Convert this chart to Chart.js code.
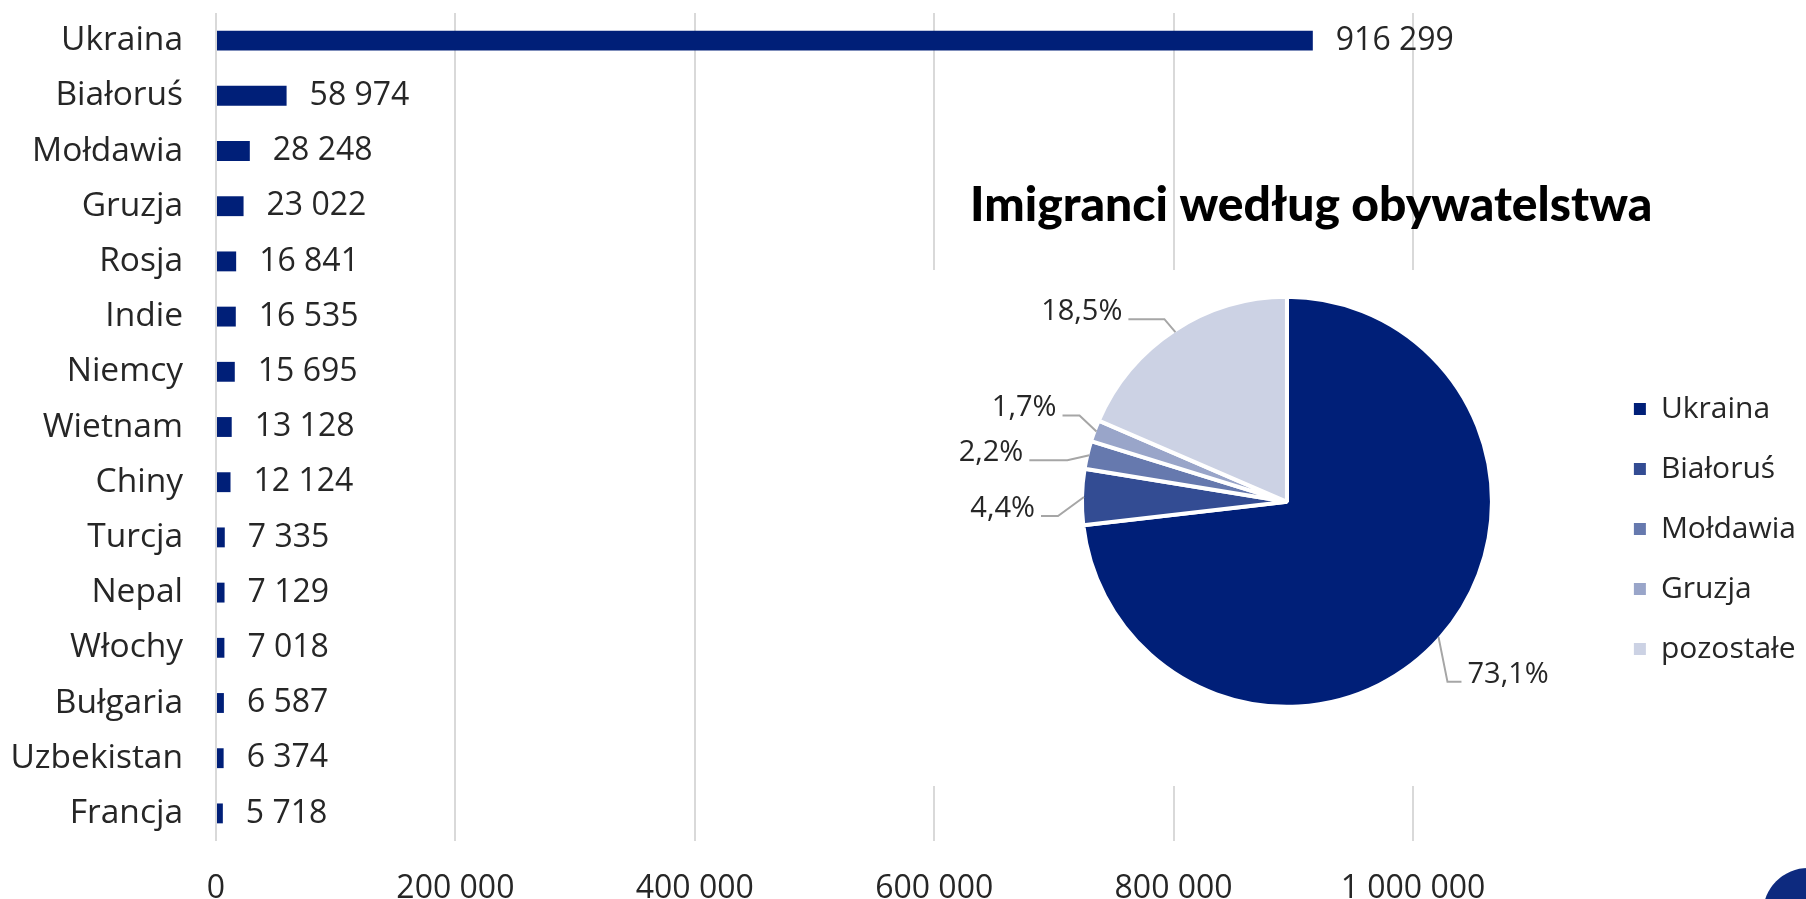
<!DOCTYPE html>
<html lang="pl">
<head>
<meta charset="utf-8">
<title>Imigranci według obywatelstwa</title>
<script src="https://cdn.jsdelivr.net/npm/chart.js@4"></script>
<style>
    html, body { margin: 0; padding: 0; background: #fff; }
    body { width: 1806px; height: 899px; position: relative; overflow: hidden; }
    #barWrap { position: absolute; left: 0; top: 0; width: 1806px; height: 899px; }
    #cover { position: absolute; left: 900px; top: 270px; width: 906px; height: 516px; background: #fff; }
    #pieWrap { position: absolute; left: 930px; top: 150px; width: 876px; height: 640px; }
    #corner { position: absolute; left: 1763px; top: 868px; width: 90px; height: 90px; border-radius: 45px; background: #0d2a7f; }
</style>
</head>
<body>
<div id="barWrap"><canvas id="bars"></canvas></div>
<div id="cover"></div>
<div id="pieWrap"><canvas id="pie"></canvas></div>
<div id="corner"></div>
<script>
const countries = ['Ukraina', 'Białoruś', 'Mołdawia', 'Gruzja', 'Rosja', 'Indie', 'Niemcy', 'Wietnam', 'Chiny', 'Turcja', 'Nepal', 'Włochy', 'Bułgaria', 'Uzbekistan', 'Francja'];
const immigrants = [916299, 58974, 28248, 23022, 16841, 16535, 15695, 13128, 12124, 7335, 7129, 7018, 6587, 6374, 5718];
const axisMax = 1000000;
const axisStep = 200000;

const pieLabels = ['Ukraina', 'Białoruś', 'Mołdawia', 'Gruzja', 'pozostałe'];
const pieShares = [73.1, 4.4, 2.2, 1.7, 18.5];
const pieColors = ['#001f78', '#334c93', '#6679ae', '#99a5c9', '#ccd2e4'];

// leader lines: elbow dx, elbow dy, horizontal run (negative goes left)
const leaders = [[9, 45, 14], [-26, 19, -17], [-22, 5, -38], [-17, -16, -17], [-11, -13, -36]];

const barColor = '#001f78';
const textColor = '#262626';
const baseFont = "'Open Sans', sans-serif";

function spaced(n) {
    return String(n).replace(/\B(?=(\d{3})+(?!\d))/g, ' ');
}

const barValues = {
    id: 'barValues',
    afterDatasetsDraw(chart) {
        const ctx = chart.ctx;
        const meta = chart.getDatasetMeta(0);
        ctx.save();
        ctx.font = '32px ' + baseFont;
        ctx.fillStyle = textColor;
        ctx.textAlign = 'left';
        ctx.textBaseline = 'middle';
        meta.data.forEach((bar, i) => {
            ctx.fillText(spaced(immigrants[i]), bar.x + 23, bar.y);
        });
        ctx.restore();
    }
};

const pieCallouts = {
    id: 'pieCallouts',
    afterDatasetsDraw(chart) {
        const ctx = chart.ctx;
        const meta = chart.getDatasetMeta(0);
        ctx.save();
        ctx.font = '29px ' + baseFont;
        ctx.lineWidth = 2;
        ctx.strokeStyle = '#a6a6a6';
        ctx.fillStyle = textColor;
        ctx.textBaseline = 'alphabetic';
        meta.data.forEach((arc, i) => {
            const p = arc.getProps(['x', 'y', 'startAngle', 'endAngle', 'outerRadius']);
            const mid = (p.startAngle + p.endAngle) / 2;
            const r = p.outerRadius - 2;
            const ax = p.x + Math.cos(mid) * r;
            const ay = p.y + Math.sin(mid) * r;
            const [dx, dy, run] = leaders[i];
            const ex = ax + dx;
            const ey = ay + dy;
            const tx = ex + run;
            ctx.beginPath();
            ctx.moveTo(ax, ay);
            ctx.lineTo(ex, ey);
            ctx.lineTo(tx, ey);
            ctx.stroke();
            ctx.textAlign = run < 0 ? 'right' : 'left';
            ctx.fillText(pieShares[i].toFixed(1).replace('.', ',') + '%', tx + (run < 0 ? -6 : 6), ey + 1);
        });
        ctx.restore();
    }
};

new Chart(document.getElementById('bars'), {
    type: 'bar',
    data: {
        labels: countries,
        datasets: [{
            data: immigrants,
            backgroundColor: barColor,
            barPercentage: 0.36,
            categoryPercentage: 1
        }]
    },
    options: {
        indexAxis: 'y',
        responsive: true,
        maintainAspectRatio: false,
        animation: false,
        layout: { padding: { top: 13, right: 393, bottom: 0, left: 0 } },
        plugins: {
            legend: { display: false },
            tooltip: { enabled: false }
        },
        scales: {
            x: {
                min: 0,
                max: axisMax,
                ticks: {
                    stepSize: axisStep,
                    callback: v => spaced(v),
                    font: { family: baseFont, size: 32 },
                    color: textColor,
                    padding: 29,
                    maxRotation: 0
                },
                grid: { color: '#d9d9d9', lineWidth: 2, drawTicks: false },
                border: { display: false },
                afterFit(s) { s.height = 58; s.paddingLeft = 0; s.paddingRight = 0; }
            },
            y: {
                ticks: {
                    font: { family: baseFont, size: 33.5 },
                    color: textColor,
                    padding: 33
                },
                grid: { display: false, drawTicks: false },
                border: { display: false },
                afterFit(s) { s.width = 216; s.paddingTop = 0; s.paddingBottom = 0; }
            }
        }
    },
    plugins: [barValues]
});

new Chart(document.getElementById('pie'), {
    type: 'pie',
    data: {
        labels: pieLabels,
        datasets: [{
            data: pieShares,
            backgroundColor: pieColors,
            borderColor: '#ffffff',
            borderWidth: 4,
            radius: 205,
            clip: false
        }]
    },
    options: {
        responsive: true,
        maintainAspectRatio: false,
        animation: false,
        layout: { padding: { top: 0, right: 0, bottom: 96, left: 40 } },
        plugins: {
            title: {
                display: true,
                text: 'Imigranci według obywatelstwa',
                align: 'start',
                color: '#000',
                font: { family: 'Lato', weight: 900, size: 48 },
                padding: { top: 27, bottom: 75 }
            },
            legend: {
                position: 'right',
                align: 'end',
                labels: {
                    font: { family: baseFont, size: 30 },
                    color: textColor,
                    boxWidth: 12,
                    boxHeight: 12,
                    padding: 30,
                    generateLabels(chart) {
                        return Chart.overrides.pie.plugins.legend.labels.generateLabels(chart)
                            .map(item => Object.assign(item, { lineWidth: 0, strokeStyle: item.fillStyle }));
                    }
                }
            },
            tooltip: { enabled: false }
        }
    },
    plugins: [pieCallouts]
});
</script>
</body>
</html>
